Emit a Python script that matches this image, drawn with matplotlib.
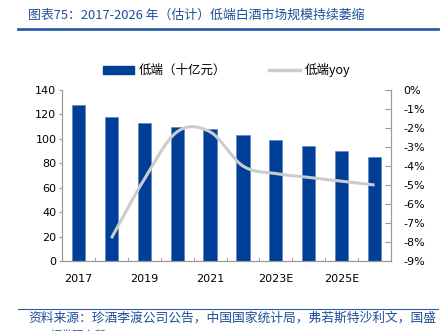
import numpy as np
import matplotlib
matplotlib.use('Agg')
import matplotlib.pyplot as plt
from matplotlib.lines import Line2D
from matplotlib.patches import Patch

plt.rcParams['font.family'] = ['Noto Sans CJK SC', 'DejaVu Sans']

years = ['2017', '2018', '2019', '2020', '2021', '2022', '2023E', '2024E', '2025E', '2026E']
size = [128, 118, 113, 110, 108, 103.5, 99, 94.5, 90, 85.5]
yoy = [None, -7.8, -4.7, -2.2, -2.2, -4.0, -4.4, -4.6, -4.8, -5.0]

bar_color = '#003f98'
line_color = '#cccccc'
title_color = '#1f4e9a'


def catmull_rom(xs, ys, n=30):
    # smooth line through the data points (like Excel's smoothed line)
    xs = np.asarray(xs, float)
    ys = np.asarray(ys, float)
    px = np.concatenate([[2 * xs[0] - xs[1]], xs, [2 * xs[-1] - xs[-2]]])
    py = np.concatenate([[2 * ys[0] - ys[1]], ys, [2 * ys[-1] - ys[-2]]])
    outx, outy = [], []
    for i in range(1, len(px) - 2):
        t = np.linspace(0, 1, n)
        for p, out in ((px, outx), (py, outy)):
            p0, p1, p2, p3 = p[i - 1], p[i], p[i + 1], p[i + 2]
            out.extend(0.5 * ((2 * p1) + (-p0 + p2) * t
                              + (2 * p0 - 5 * p1 + 4 * p2 - p3) * t ** 2
                              + (-p0 + 3 * p1 - 3 * p2 + p3) * t ** 3))
    return np.array(outx), np.array(outy)


fig = plt.figure(figsize=(4.48, 3.31), dpi=100)
ax = fig.add_axes([62 / 448, 1 - 261 / 331, 329 / 448, 171 / 331])

x = np.arange(len(years))
ax.bar(x, size, width=0.4, color=bar_color, edgecolor='#5a7fc0', linewidth=0.4, zorder=2)
ax.set_xlim(-0.5, len(years) - 0.5)
ax.set_ylim(0, 140)
ax.set_yticks(range(0, 141, 20))
ax.set_xticks(x[::2])
ax.set_xticklabels(years[::2])
ax.set_xticks(np.arange(-0.5, len(years), 1), minor=True)
ax.tick_params(axis='x', which='major', length=0, labelsize=8, pad=9)
ax.tick_params(axis='x', which='minor', direction='in', length=3, color='#999999')
ax.tick_params(axis='y', length=2, color='#999999', labelsize=8, pad=2)
ax.spines['top'].set_visible(False)
for s in ['left', 'bottom', 'right']:
    ax.spines[s].set_color('#999999')
    ax.spines[s].set_linewidth(0.8)

ax2 = ax.twinx()
xi = [i for i, v in enumerate(yoy) if v is not None]
yi = [v for v in yoy if v is not None]
sx, sy = catmull_rom(xi, yi)
ax2.plot(sx, sy, color=line_color, linewidth=2.2, solid_capstyle='butt', zorder=3)
ax2.set_ylim(-9, 0)
ax2.set_yticks(range(-9, 1))
ax2.set_yticklabels([f'{v}%' for v in range(-9, 1)])
ax2.tick_params(axis='y', direction='in', length=4, color='#999999', labelsize=8, pad=9)
ax2.spines['top'].set_visible(False)
for s in ['left', 'bottom', 'right']:
    ax2.spines[s].set_color('#999999')
    ax2.spines[s].set_linewidth(0.8)

for lab in ax.get_xticklabels() + ax.get_yticklabels() + ax2.get_yticklabels():
    lab.set_family('DejaVu Sans')

handles = [Patch(facecolor=bar_color, edgecolor=bar_color),
           Line2D([0], [0], color=line_color, linewidth=2.5)]
fig.legend(handles, ['低端（十亿元）', '低端yoy'], loc='center', bbox_to_anchor=(0.506, 1 - 70 / 331),
           ncol=2, frameon=False, fontsize=9, handlelength=2.5, handleheight=0.6,
           columnspacing=3.4, handletextpad=0.4)

fig.text(28 / 448, 1 - 15 / 331, '图表75：2017-2026 年（估计）低端白酒市场规模持续萎缩',
         color=title_color, fontsize=9.3, style='italic', va='center', ha='left')
fig.add_artist(Line2D([18 / 448, 438 / 448], [1 - 29 / 331, 1 - 29 / 331],
                      color='#2f5ea8', linewidth=2))
fig.add_artist(Line2D([18 / 448, 438 / 448], [1 - 309 / 331, 1 - 309 / 331],
                      color='#2f5ea8', linewidth=0.8))
fig.text(28 / 448, 1 - 318 / 331, '资料来源：珍酒李渡公司公告，中国国家统计局，弗若斯特沙利文，国盛',
         color=title_color, fontsize=9.2, style='italic', va='center', ha='left')
fig.text(50 / 448, 1 - 335 / 331, '证券研究所',
         color=title_color, fontsize=8, style='italic', va='center', ha='left')

fig.savefig('out.png', dpi=100)
